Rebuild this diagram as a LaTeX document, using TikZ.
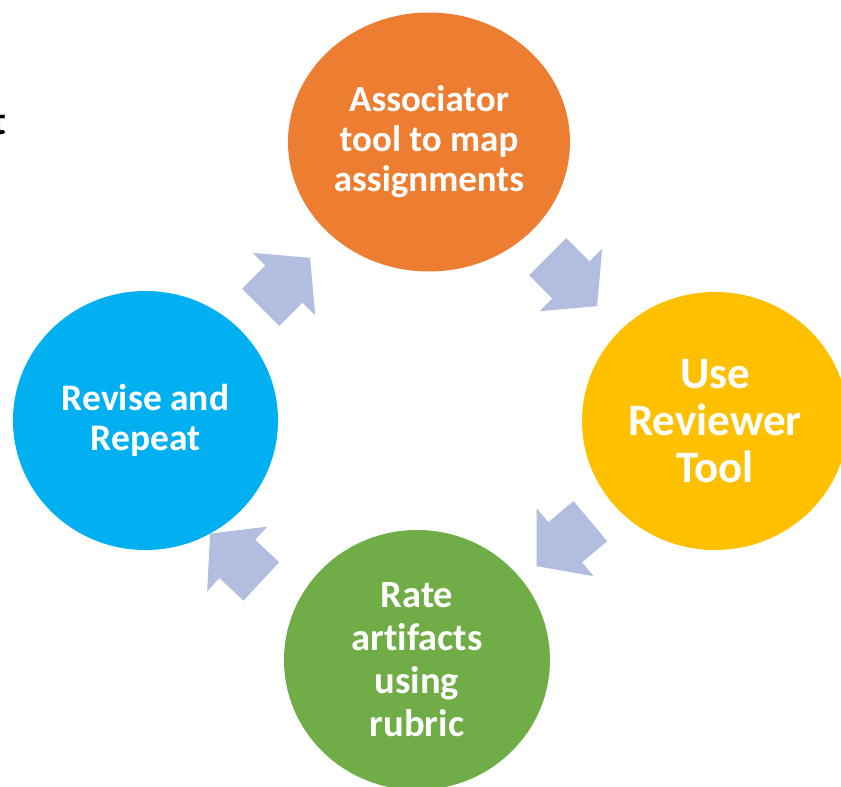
\documentclass[tikz,border=0pt]{standalone}
\usepackage{fontspec}
\setmainfont{Carlito}[Ligatures=NoCommon]
\usetikzlibrary{shapes.geometric,shapes.arrows}

\definecolor{cOrange}{RGB}{237,125,49}
\definecolor{cYellow}{RGB}{255,192,0}
\definecolor{cGreen}{RGB}{112,173,71}
\definecolor{cBlue}{RGB}{0,176,240}
\definecolor{cArrow}{RGB}{178,190,224}

\begin{document}
\begin{tikzpicture}
	[x=1pt,y=-1pt,
	 stage/.style={ellipse, fill=#1, inner sep=0pt, text=white, align=center,
	   font=\bfseries\fontsize{37}{40}\selectfont},
	 flow/.style={single arrow, fill=cArrow, inner xsep=0pt, inner ysep=26pt,
	   minimum height=70pt, single arrow head extend=18pt, single arrow tip angle=100,
	   anchor=tail}]
	\useasboundingbox (0,0) rectangle (841,787);
	\node[anchor=base east, font=\bfseries\fontsize{40}{40}\selectfont] (cut) at (10,134) {t};
	\node[stage=cOrange, minimum width=282pt, minimum height=259pt] (assoc) at (429,142) {Associator\\tool to map\\assignments};
	\node[stage=cYellow, minimum width=266pt, minimum height=258pt,
	  font=\bfseries\fontsize{45}{47}\selectfont] (review) at (715,421) {Use\\Reviewer\\Tool};
	\node[stage=cGreen, minimum width=266pt, minimum height=260pt,
	  font=\bfseries\fontsize{38.5}{43}\selectfont] (rate) at (417,660) {Rate\\art\kern0pt ifacts\\using\\rubric};
	\node[stage=cBlue, minimum width=265pt, minimum height=259pt,
	  font=\bfseries\fontsize{37.5}{40}\selectfont] (revise) at (145.5,420.5) {Revise and\\Repeat};
	
	\foreach \name/\pos/\ang in {a1/{(260.5,307.5)}/45,a2/{(547.5,256.5)}/-45,a3/{(590.5,521)}/220,a4/{(261.5,581.5)}/137}
	\node[flow, rotate=\ang] (\name) at \pos {};
	\end{tikzpicture}
\end{document}
